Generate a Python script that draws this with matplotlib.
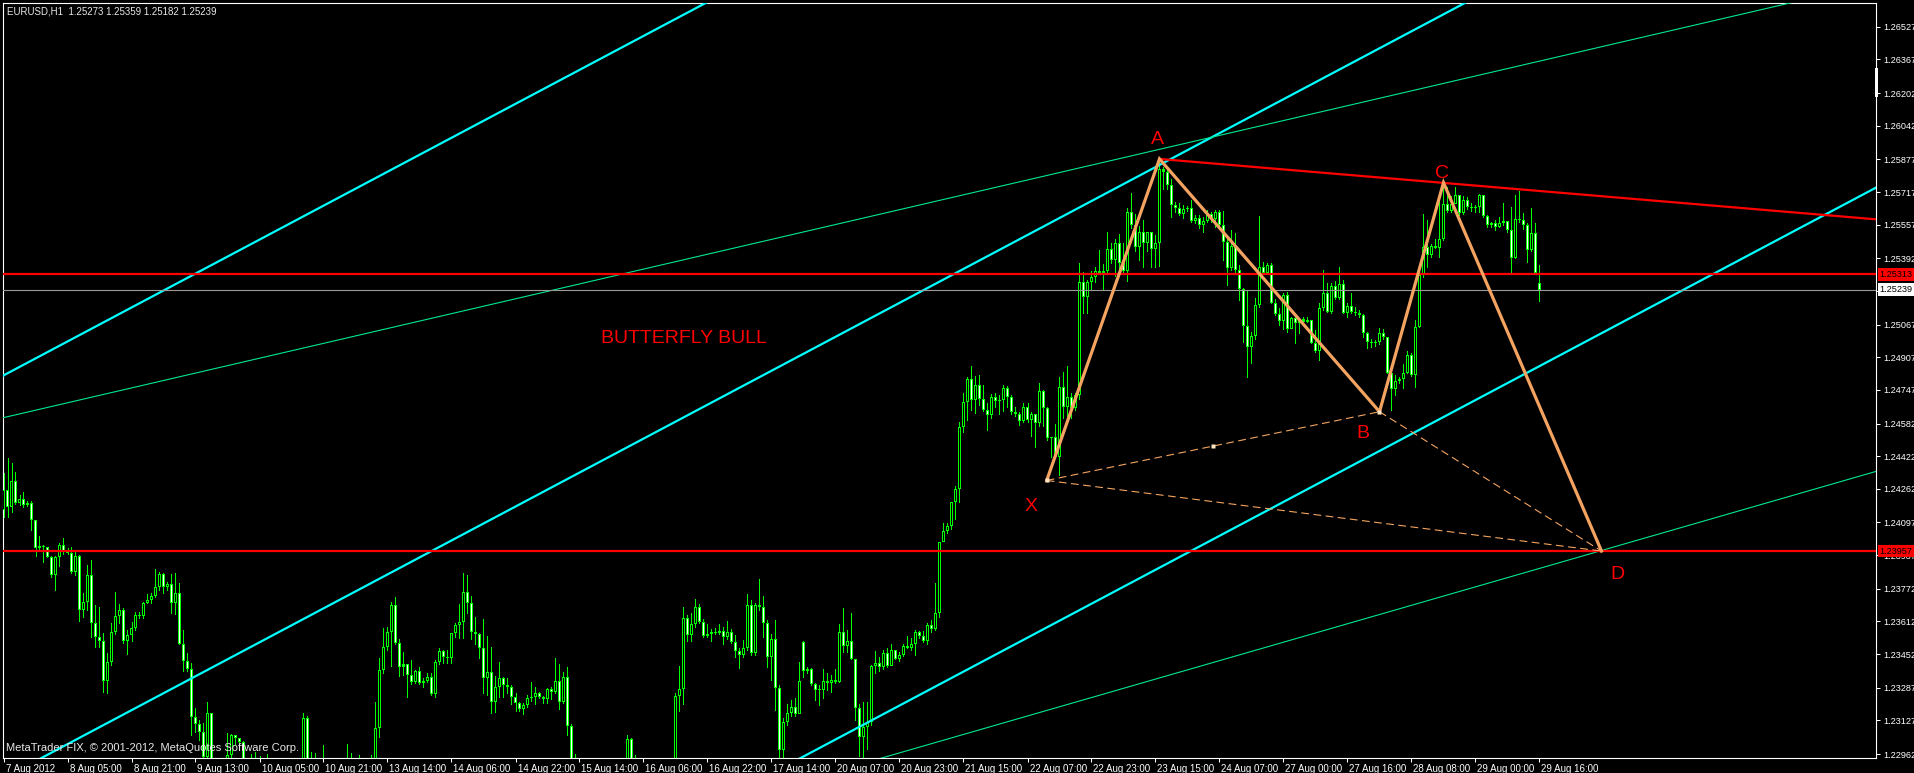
import matplotlib
matplotlib.use("Agg")
import matplotlib.pyplot as plt
from matplotlib.patches import Rectangle
from matplotlib.transforms import blended_transform_factory, ScaledTranslation

plt.rcParams['font.family'] = ['Liberation Sans', 'DejaVu Sans']


# =========================
# EURUSD H1 CANDLES (bar index 0 = 7 Aug 2012 13:00)
# =========================

first_open = 1.24158

closes = [
    1.24256, 1.24171, 1.24300, 1.24191, 1.24210, 1.24182, 1.24194, 1.24109, 1.23970, 1.23981,
    1.23978, 1.23929, 1.23839, 1.23929, 1.23986, 1.23958, 1.23949, 1.23856, 1.23932, 1.23668,
    1.23709, 1.23842, 1.23602, 1.23537, 1.23517, 1.23321, 1.23411, 1.23558, 1.23638, 1.23668,
    1.23517, 1.23545, 1.23578, 1.23643, 1.23640, 1.23704, 1.23717, 1.23736, 1.23782, 1.23844,
    1.23779, 1.23795, 1.23700, 1.23753, 1.23501, 1.23419, 1.23377, 1.23145, 1.23109, 1.23071,
    1.22949, 1.23161, 1.22920, 1.22880, 1.22840, 1.22900, 1.22957, 1.23055, 1.23040, 1.23020,
    1.22900, 1.22820, 1.22860, 1.22780, 1.22850, 1.22750, 1.22700, 1.22620, 1.22680, 1.22740,
    1.22800, 1.22770, 1.22840, 1.22810, 1.22880, 1.23137, 1.22920, 1.22900, 1.22860, 1.22830,
    1.22890, 1.22840, 1.22880, 1.22820, 1.22770, 1.22840, 1.22920, 1.22890, 1.22850, 1.22900,
    1.22870, 1.22840, 1.22900, 1.23088, 1.23374, 1.23485, 1.23561, 1.23692, 1.23504, 1.23390,
    1.23402, 1.23348, 1.23317, 1.23369, 1.23312, 1.23318, 1.23339, 1.23254, 1.23411, 1.23467,
    1.23439, 1.23431, 1.23553, 1.23594, 1.23607, 1.23754, 1.23701, 1.23562, 1.23549, 1.23480,
    1.23333, 1.23362, 1.23218, 1.23289, 1.23333, 1.23300, 1.23292, 1.23243, 1.23214, 1.23181,
    1.23202, 1.23236, 1.23243, 1.23259, 1.23240, 1.23233, 1.23282, 1.23268, 1.23318, 1.23215,
    1.23338, 1.23101, 1.22933, 1.22880, 1.22810, 1.22760, 1.22700, 1.22740, 1.22680, 1.22650,
    1.22710, 1.22760, 1.22730, 1.22790, 1.22840, 1.22900, 1.23034, 1.22900, 1.22870, 1.22820,
    1.22780, 1.22740, 1.22700, 1.22670, 1.22720, 1.22760, 1.22800, 1.22850, 1.23246, 1.23279,
    1.23627, 1.23545, 1.23598, 1.23681, 1.23611, 1.23542, 1.23550, 1.23560, 1.23553, 1.23565,
    1.23537, 1.23558, 1.23513, 1.23468, 1.23447, 1.23480, 1.23692, 1.23455, 1.23692, 1.23684,
    1.23603, 1.23436, 1.23524, 1.23284, 1.22980, 1.23121, 1.23163, 1.23192, 1.23159, 1.23318,
    1.23369, 1.23378, 1.23306, 1.23278, 1.23274, 1.23321, 1.23312, 1.23325, 1.23316, 1.23560,
    1.23493, 1.23518, 1.23430, 1.23188, 1.23045, 1.23093, 1.23121, 1.23392, 1.23407, 1.23388,
    1.23455, 1.23392, 1.23474, 1.23430, 1.23449, 1.23493, 1.23483, 1.23499, 1.23560, 1.23541,
    1.23518, 1.23594, 1.23575, 1.23651, 1.24002, 1.24055, 1.24078, 1.24198, 1.24259, 1.24564,
    1.24688, 1.24798, 1.24699, 1.24770, 1.24703, 1.24650, 1.24623, 1.24713, 1.24694, 1.24698,
    1.24755, 1.24713, 1.24637, 1.24631, 1.24593, 1.24665, 1.24598, 1.24631, 1.24585, 1.24741,
    1.24656, 1.24513, 1.24516, 1.24417, 1.24760, 1.24665, 1.24713, 1.24656, 1.24722, 1.25275,
    1.25203, 1.25275, 1.25298, 1.25328, 1.25321, 1.25328, 1.25437, 1.25386, 1.25466, 1.25370,
    1.25332, 1.25618, 1.25557, 1.25446, 1.25523, 1.25466, 1.25519, 1.25437, 1.25466, 1.25828,
    1.25817, 1.25751, 1.25653, 1.25637, 1.25609, 1.25634, 1.25637, 1.25577, 1.25591, 1.25555,
    1.25577, 1.25609, 1.25583, 1.25621, 1.25555, 1.25474, 1.25343, 1.25452, 1.25335, 1.25240,
    1.25060, 1.24959, 1.25011, 1.25163, 1.25348, 1.25322, 1.25359, 1.25175, 1.25119, 1.25086,
    1.25212, 1.25044, 1.25098, 1.25073, 1.25093, 1.25081, 1.25090, 1.24979, 1.24939, 1.25147,
    1.25220, 1.25130, 1.25256, 1.25196, 1.25266, 1.25126, 1.25158, 1.25130, 1.25126, 1.25114,
    1.25024, 1.24983, 1.24979, 1.24983, 1.25024, 1.25005, 1.24831, 1.24750, 1.24792, 1.24799,
    1.24831, 1.24918, 1.24820, 1.25054, 1.25310, 1.25449, 1.25408, 1.25452, 1.25444, 1.25485,
    1.25658, 1.25626, 1.25658, 1.25702, 1.25613, 1.25678, 1.25642, 1.25637, 1.25642, 1.25702,
    1.25599, 1.25555, 1.25564, 1.25544, 1.25567, 1.25575, 1.25531, 1.25392, 1.25583, 1.25580,
    1.25555, 1.25433, 1.25515, 1.25322, 1.25239,
]

highs = [
    1.24338, 1.24411, 1.24387, 1.24346, 1.24231, 1.24248, 1.24204, 1.24204, 1.24109, 1.24030,
    1.23986, 1.23975, 1.23932, 1.23932, 1.23998, 1.24019, 1.23970, 1.23978, 1.23954, 1.23937,
    1.23749, 1.23888, 1.23913, 1.23692, 1.23684, 1.23557, 1.23458, 1.23602, 1.23754, 1.23697,
    1.23676, 1.23570, 1.23610, 1.23659, 1.23659, 1.23709, 1.23746, 1.23749, 1.23867, 1.23856,
    1.23847, 1.23807, 1.23844, 1.23847, 1.23798, 1.23570, 1.23455, 1.23406, 1.23186, 1.23128,
    1.23112, 1.23218, 1.23112, 1.22940, 1.22920, 1.22940, 1.23063, 1.23060, 1.23055, 1.23040,
    1.23025, 1.22930, 1.22960, 1.22970, 1.22950, 1.22900, 1.22960, 1.22750, 1.22740, 1.22800,
    1.22880, 1.22860, 1.22900, 1.22890, 1.22940, 1.23164, 1.23150, 1.22970, 1.22968, 1.22920,
    1.23006, 1.22920, 1.22930, 1.22900, 1.22860, 1.22900, 1.23011, 1.22968, 1.22930, 1.22957,
    1.22940, 1.22920, 1.22957, 1.23218, 1.23431, 1.23578, 1.23586, 1.23709, 1.23733, 1.23524,
    1.23464, 1.23398, 1.23423, 1.23374, 1.23387, 1.23333, 1.23357, 1.23357, 1.23423, 1.23480,
    1.23472, 1.23472, 1.23553, 1.23603, 1.23697, 1.23851, 1.23839, 1.23736, 1.23632, 1.23553,
    1.23624, 1.23540, 1.23488, 1.23344, 1.23411, 1.23341, 1.23333, 1.23300, 1.23263, 1.23218,
    1.23210, 1.23251, 1.23315, 1.23292, 1.23268, 1.23246, 1.23286, 1.23289, 1.23431, 1.23403,
    1.23364, 1.23390, 1.23109, 1.22960, 1.22920, 1.22860, 1.22800, 1.22820, 1.22780, 1.22720,
    1.22760, 1.22810, 1.22800, 1.22840, 1.22890, 1.22940, 1.23055, 1.23039, 1.22957, 1.22910,
    1.22870, 1.22830, 1.22790, 1.22740, 1.22770, 1.22820, 1.22860, 1.22900, 1.23259, 1.23393,
    1.23684, 1.23643, 1.23652, 1.23720, 1.23697, 1.23622, 1.23599, 1.23573, 1.23581, 1.23599,
    1.23583, 1.23614, 1.23573, 1.23545, 1.23480, 1.23521, 1.23745, 1.23717, 1.23701, 1.23818,
    1.23736, 1.23619, 1.23550, 1.23619, 1.23300, 1.23140, 1.23207, 1.23226, 1.23236, 1.23411,
    1.23518, 1.23388, 1.23384, 1.23312, 1.23302, 1.23378, 1.23360, 1.23350, 1.23378, 1.23598,
    1.23678, 1.23569, 1.23651, 1.23430, 1.23207, 1.23217, 1.23217, 1.23398, 1.23468, 1.23436,
    1.23474, 1.23483, 1.23499, 1.23474, 1.23464, 1.23499, 1.23541, 1.23531, 1.23569, 1.23564,
    1.23565, 1.23602, 1.23617, 1.23798, 1.24002, 1.24093, 1.24093, 1.24198, 1.24274, 1.24589,
    1.24732, 1.24808, 1.24865, 1.24817, 1.24821, 1.24770, 1.24684, 1.24726, 1.24732, 1.24722,
    1.24770, 1.24764, 1.24722, 1.24665, 1.24637, 1.24684, 1.24684, 1.24637, 1.24631, 1.24779,
    1.24745, 1.24665, 1.24516, 1.24579, 1.24808, 1.24837, 1.24865, 1.24732, 1.24732, 1.25370,
    1.25323, 1.25285, 1.25328, 1.25351, 1.25431, 1.25366, 1.25523, 1.25469, 1.25485, 1.25513,
    1.25466, 1.25641, 1.25710, 1.25609, 1.25551, 1.25580, 1.25523, 1.25475, 1.25508, 1.25874,
    1.25840, 1.25828, 1.25779, 1.25670, 1.25662, 1.25653, 1.25650, 1.25678, 1.25604, 1.25604,
    1.25596, 1.25629, 1.25621, 1.25629, 1.25629, 1.25624, 1.25485, 1.25531, 1.25515, 1.25359,
    1.25245, 1.25237, 1.25032, 1.25196, 1.25599, 1.25376, 1.25371, 1.25367, 1.25191, 1.25147,
    1.25224, 1.25229, 1.25106, 1.25106, 1.25098, 1.25106, 1.25103, 1.25090, 1.25041, 1.25171,
    1.25335, 1.25269, 1.25269, 1.25282, 1.25351, 1.25286, 1.25171, 1.25224, 1.25152, 1.25139,
    1.25119, 1.25032, 1.24995, 1.24992, 1.25052, 1.25044, 1.25008, 1.24845, 1.24820, 1.24812,
    1.24874, 1.24939, 1.24926, 1.25090, 1.25327, 1.25609, 1.25580, 1.25462, 1.25485, 1.25686,
    1.25760, 1.25743, 1.25697, 1.25743, 1.25681, 1.25697, 1.25691, 1.25665, 1.25653, 1.25706,
    1.25702, 1.25604, 1.25572, 1.25580, 1.25593, 1.25665, 1.25577, 1.25645, 1.25702, 1.25724,
    1.25613, 1.25564, 1.25637, 1.25564, 1.25359,
]

lows = [
    1.24125, 1.24122, 1.24150, 1.24187, 1.24182, 1.24174, 1.24177, 1.24060, 1.23932, 1.23962,
    1.23905, 1.23926, 1.23831, 1.23766, 1.23883, 1.23945, 1.23945, 1.23847, 1.23839, 1.23615,
    1.23635, 1.23668, 1.23537, 1.23488, 1.23488, 1.23267, 1.23262, 1.23398, 1.23550, 1.23602,
    1.23504, 1.23452, 1.23517, 1.23570, 1.23627, 1.23627, 1.23700, 1.23700, 1.23733, 1.23766,
    1.23749, 1.23766, 1.23655, 1.23648, 1.23501, 1.23370, 1.23370, 1.23055, 1.23071, 1.23030,
    1.22916, 1.22916, 1.22834, 1.22800, 1.22760, 1.22810, 1.22880, 1.22930, 1.23010, 1.22980,
    1.22840, 1.22750, 1.22790, 1.22720, 1.22760, 1.22680, 1.22620, 1.22550, 1.22580, 1.22640,
    1.22700, 1.22700, 1.22740, 1.22750, 1.22780, 1.22850, 1.22880, 1.22820, 1.22780, 1.22760,
    1.22790, 1.22760, 1.22800, 1.22740, 1.22680, 1.22720, 1.22800, 1.22820, 1.22780, 1.22810,
    1.22800, 1.22780, 1.22820, 1.22860, 1.23047, 1.23357, 1.23472, 1.23393, 1.23501, 1.23344,
    1.23349, 1.23243, 1.23305, 1.23312, 1.23305, 1.23292, 1.23317, 1.23251, 1.23243, 1.23403,
    1.23410, 1.23410, 1.23406, 1.23537, 1.23532, 1.23532, 1.23655, 1.23526, 1.23501, 1.23431,
    1.23263, 1.23251, 1.23165, 1.23170, 1.23243, 1.23240, 1.23259, 1.23207, 1.23174, 1.23174,
    1.23160, 1.23194, 1.23223, 1.23207, 1.23235, 1.23210, 1.23210, 1.23230, 1.23259, 1.23181,
    1.23210, 1.23055, 1.22850, 1.22800, 1.22740, 1.22680, 1.22620, 1.22650, 1.22600, 1.22580,
    1.22620, 1.22680, 1.22670, 1.22700, 1.22750, 1.22800, 1.22860, 1.22850, 1.22790, 1.22750,
    1.22710, 1.22660, 1.22620, 1.22590, 1.22630, 1.22690, 1.22730, 1.22760, 1.22820, 1.23174,
    1.23205, 1.23518, 1.23518, 1.23583, 1.23603, 1.23537, 1.23537, 1.23518, 1.23549, 1.23550,
    1.23500, 1.23524, 1.23504, 1.23436, 1.23382, 1.23439, 1.23472, 1.23447, 1.23447, 1.23668,
    1.23537, 1.23390, 1.23325, 1.23178, 1.22900, 1.22920, 1.23102, 1.23150, 1.23150, 1.23198,
    1.23340, 1.23360, 1.23302, 1.23226, 1.23201, 1.23236, 1.23274, 1.23264, 1.23308, 1.23316,
    1.23464, 1.23464, 1.23426, 1.23131, 1.22950, 1.22940, 1.22988, 1.23102, 1.23360, 1.23369,
    1.23378, 1.23388, 1.23417, 1.23426, 1.23417, 1.23445, 1.23480, 1.23474, 1.23449, 1.23531,
    1.23512, 1.23502, 1.23560, 1.23569, 1.23636, 1.24008, 1.24046, 1.24065, 1.24112, 1.24198,
    1.24541, 1.24598, 1.24650, 1.24636, 1.24675, 1.24642, 1.24551, 1.24608, 1.24665, 1.24627,
    1.24642, 1.24665, 1.24627, 1.24617, 1.24574, 1.24589, 1.24589, 1.24522, 1.24465, 1.24570,
    1.24570, 1.24503, 1.24417, 1.24417, 1.24332, 1.24608, 1.24608, 1.24608, 1.24646, 1.24703,
    1.25123, 1.25126, 1.25237, 1.25275, 1.25313, 1.25237, 1.25317, 1.25370, 1.25304, 1.25332,
    1.25313, 1.25279, 1.25542, 1.25427, 1.25386, 1.25351, 1.25427, 1.25351, 1.25351, 1.25354,
    1.25732, 1.25732, 1.25593, 1.25621, 1.25604, 1.25588, 1.25626, 1.25572, 1.25564, 1.25539,
    1.25523, 1.25572, 1.25572, 1.25544, 1.25547, 1.25384, 1.25261, 1.25335, 1.25327, 1.25188,
    1.24983, 1.24809, 1.24880, 1.24995, 1.25155, 1.25315, 1.25343, 1.25171, 1.25114, 1.25065,
    1.25044, 1.25032, 1.25049, 1.24975, 1.25024, 1.25073, 1.25081, 1.24975, 1.24934, 1.24894,
    1.25139, 1.25130, 1.25122, 1.25191, 1.25191, 1.25122, 1.25106, 1.25122, 1.25114, 1.25103,
    1.25008, 1.24951, 1.24959, 1.24962, 1.24972, 1.24995, 1.24828, 1.24648, 1.24722, 1.24783,
    1.24755, 1.24828, 1.24815, 1.24763, 1.25057, 1.25302, 1.25351, 1.25400, 1.25441, 1.25400,
    1.25482, 1.25621, 1.25621, 1.25662, 1.25604, 1.25609, 1.25632, 1.25626, 1.25621, 1.25621,
    1.25593, 1.25547, 1.25544, 1.25531, 1.25544, 1.25555, 1.25523, 1.25322, 1.25392, 1.25572,
    1.25534, 1.25376, 1.25430, 1.25318, 1.25182,
]

# bars whose open is not the previous close (weekend gap, last bar from title)
gap_opens = {200: 1.23512, 384: 1.25273}


# =========================
# AXIS TEXT
# =========================

xtick_bars = list(range(0, 385, 16))
xtick_labels = [
    '7 Aug 2012', '8 Aug 05:00', '8 Aug 21:00', '9 Aug 13:00', '10 Aug 05:00',
    '10 Aug 21:00', '13 Aug 14:00', '14 Aug 06:00', '14 Aug 22:00', '15 Aug 14:00',
    '16 Aug 06:00', '16 Aug 22:00', '17 Aug 14:00', '20 Aug 07:00', '20 Aug 23:00',
    '21 Aug 15:00', '22 Aug 07:00', '22 Aug 23:00', '23 Aug 15:00', '24 Aug 07:00',
    '27 Aug 00:00', '27 Aug 16:00', '28 Aug 08:00', '29 Aug 00:00', '29 Aug 16:00',
]

# the scale step hidden behind the 1.25239 box keeps only its tick mark
ytick_prices = [
    1.26527, 1.26367, 1.26202, 1.26042, 1.25877, 1.25717, 1.25557, 1.25392,
    1.25232, 1.25067, 1.24907, 1.24747, 1.24582, 1.24422, 1.24262, 1.24097,
    1.23937, 1.23772, 1.23612, 1.23452, 1.23287, 1.23127, 1.22962,
]
hidden_ticks = [1.25232]

title_text = 'EURUSD,H1  1.25273 1.25359 1.25182 1.25239'
copyright_text = 'MetaTrader FIX, \u00a9 2001-2012, MetaQuotes Software Corp.'


# =========================
# OBJECTS ON THE CHART
# =========================

# equidistant channel (aqua), value at first and last bar
line_bars = [0, 470]
channel_lines = [
    [1.24818, 1.29706],
    [1.22844, 1.27732],
    [1.20870, 1.25758],
]

green_upper = ([0, 470], [1.24611, 1.26750])
green_lower = ([200, 470], [1.22832, 1.24358])
red_trend = ([289.0, 470], [1.25879, 1.25580])

red_levels = [1.25313, 1.23957]
ask_level = 1.25239

# butterfly pattern X-A-B-C-D
pattern_names = ['X', 'A', 'B', 'C', 'D']
pattern_bars = [260.8, 289.0, 344.0, 360.0, 399.5]
pattern_prices = [1.24303, 1.25879, 1.24640, 1.25763, 1.23957]
label_bars = [256.9, 288.4, 339.9, 359.75, 403.5]
label_prices = [1.24173, 1.25972, 1.24535, 1.25810, 1.23844]

pattern_title = 'BUTTERFLY BULL'
pattern_title_pos = (170.1, 1.25001)


# =========================
# FIGURE
# =========================

W, H = 1914, 773
fig = plt.figure(figsize=(W / 100, H / 100), dpi=100, facecolor='black')
ax = fig.add_axes([2.5 / W, 15.5 / H, 1874 / W, 755 / H])
ax.set_facecolor('black')

ax.set_xlim(-0.25, 468.25)
ax.set_ylim(1.22945, 1.26646)

for spine in ax.spines.values():
    spine.set_color('white')
    spine.set_linewidth(0.8)

# one screen pixel in price units, for the candle outline
px_price = (1.26646 - 1.22945) / 755


# =========================
# CANDLES
# =========================

opens = [first_open] + closes[:-1]
for i, v in gap_opens.items():
    opens[i] = v

bars = list(range(len(closes)))
lime = '#00FF00'

ax.vlines(bars, lows, highs, colors=lime, linewidth=0.72,
          antialiased=False, zorder=2)

bottoms = [min(o, c) for o, c in zip(opens, closes)]
heights = [abs(c - o) for o, c in zip(opens, closes)]

# lime body 3 px wide, with a 1 px inner fill (white = bear, black = bull)
ax.bar(bars, [max(h, px_price) for h in heights], bottom=bottoms, width=0.75,
       color=lime, linewidth=0, antialiased=False, zorder=3)

inner = [(b, x, h, 'white' if c < o else 'black')
         for b, x, h, o, c in zip(bars, bottoms, heights, opens, closes)
         if h > 2.5 * px_price]
ax.bar([t[0] for t in inner], [t[2] - 2 * px_price for t in inner],
       bottom=[t[1] + px_price for t in inner], width=0.25,
       color=[t[3] for t in inner], linewidth=0, antialiased=False, zorder=3)


# =========================
# LINES
# =========================

for values in channel_lines:
    ax.plot(line_bars, values, color='#00FFFF', linewidth=1.6, zorder=4)

ax.plot(*green_upper, color='#00E890', linewidth=0.8, zorder=4)
ax.plot(*green_lower, color='#00E890', linewidth=0.8, zorder=4)

for level in red_levels:
    ax.axhline(level, color='red', linewidth=1.6, zorder=4)

ax.axhline(ask_level, color='#9A9A9A', linewidth=0.8, zorder=4)

ax.plot(*red_trend, color='red', linewidth=1.6, zorder=4)

orange = '#F4A460'
ax.plot(pattern_bars, pattern_prices, color=orange, linewidth=2.3,
        solid_joinstyle='miter', zorder=5)

for a, b in [(0, 2), (0, 4), (2, 4)]:
    ax.plot([pattern_bars[a], pattern_bars[b]],
            [pattern_prices[a], pattern_prices[b]],
            color=orange, linewidth=0.8, dashes=(7, 4), zorder=5)

# selection handles of the X-B line
handle_bars = [pattern_bars[0], (pattern_bars[0] + pattern_bars[2]) / 2, pattern_bars[2]]
handle_prices = [pattern_prices[0], (pattern_prices[0] + pattern_prices[2]) / 2, pattern_prices[2]]
ax.plot(handle_bars, handle_prices, linestyle='none', marker='s',
        markersize=2.4, markerfacecolor='#FFE4C4', markeredgecolor='none', zorder=6)

for name, bx, py in zip(pattern_names, label_bars, label_prices):
    ax.text(bx, py, name, color='red', fontsize=14, ha='center', va='center', zorder=7)

ax.text(pattern_title_pos[0], pattern_title_pos[1], pattern_title, color='red',
        fontsize=14, ha='center', va='center', zorder=7)


# =========================
# AXES TICKS AND LABELS
# =========================

ax.yaxis.tick_right()
ax.set_yticks(ytick_prices)
ax.set_yticklabels(['' if p in hidden_ticks else f'{p:.5f}' for p in ytick_prices])
ax.set_xticks(xtick_bars)
ax.set_xticklabels(xtick_labels, ha='left')

ax.tick_params(axis='both', colors='white', labelcolor='white', labelsize=7,
               length=3, width=0.75, direction='out')
ax.tick_params(axis='y', pad=2, labelsize=6.6)
ax.tick_params(axis='x', pad=1.5)

shift = ScaledTranslation(2 / 100, 0, fig.dpi_scale_trans)
for label in ax.get_xticklabels():
    label.set_transform(label.get_transform() + shift)

# price boxes on the scale
trans = blended_transform_factory(ax.transAxes, ax.transData)
for level in red_levels:
    ax.text(1.0016, level, f'{level:.5f}', transform=trans, ha='left', va='center',
            fontsize=6.6, color='black', clip_on=False, zorder=10,
            bbox=dict(boxstyle='square,pad=0.2', facecolor='red', edgecolor='none'))
ax.text(1.0016, ask_level, f'{ask_level:.5f}', transform=trans, ha='left', va='center',
        fontsize=6.6, color='black', clip_on=False, zorder=10,
        bbox=dict(boxstyle='square,pad=0.2', facecolor='white', edgecolor='none'))

# scroll marker on the right border
fig.patches.append(Rectangle((1875 / W, 1 - 97 / H), 3 / W, 29 / H,
                             transform=fig.transFigure, facecolor='white',
                             edgecolor='none'))

fig.text(7 / W, 1 - 11 / H, title_text, color='#E8E8E8', fontsize=7, va='center')
fig.text(6 / W, 1 - 748 / H, copyright_text, color='#E8E8E8', fontsize=8, va='center')

fig.savefig('out.png', dpi=100, facecolor='black')
